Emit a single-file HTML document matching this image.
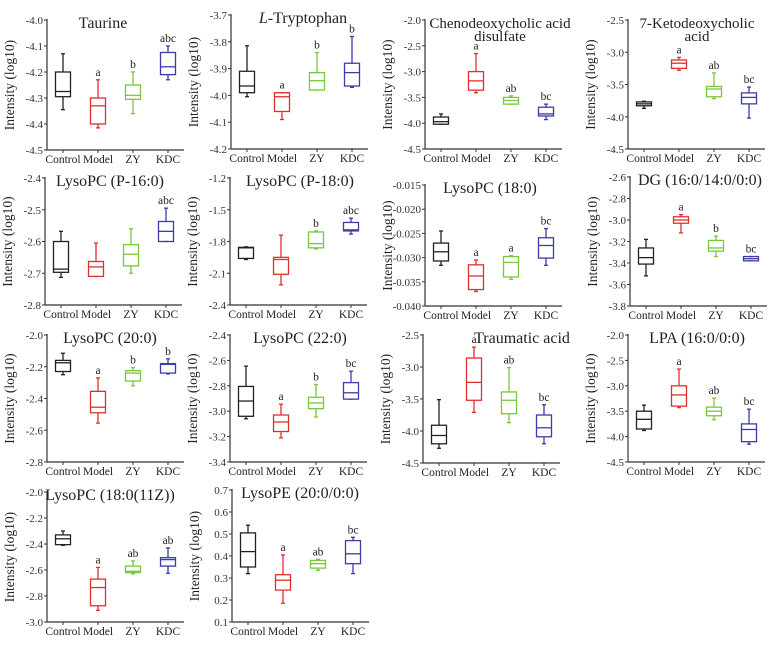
<!DOCTYPE html>
<html><head><meta charset="utf-8">
<style>
html,body{margin:0;padding:0;background:#fff;}
svg, svg text{font-family:"Liberation Serif","DejaVu Serif",serif;}
</style></head>
<body>
<svg id="chart" width="779" height="641" viewBox="0 0 779 641" xmlns="http://www.w3.org/2000/svg" font-family="Liberation Serif, serif"></svg>
<script>
const categories = ["Control","Model","ZY","KDC"];
const groupColors = ["#222222","#e0302e","#78c83a","#3c3ca8"];
const titles = [["Taurine"],["L-Tryptophan"],["Chenodeoxycholic acid","disulfate"],["7-Ketodeoxycholic","acid"],
 ["LysoPC (P-16:0)"],["LysoPC (P-18:0)"],["LysoPC (18:0)"],["DG (16:0/14:0/0:0)"],
 ["LysoPC (20:0)"],["LysoPC (22:0)"],["Traumatic acid"],["LPA (16:0/0:0)"],
 ["LysoPC (18:0(11Z))"],["LysoPE (20:0/0:0)"]];
const yTicks = [
 ["-4.0","-4.1","-4.2","-4.3","-4.4","-4.5"],
 ["-3.7","-3.8","-3.9","-4.0","-4.1","-4.2"],
 ["-2.0","-2.5","-3.0","-3.5","-4.0","-4.5"],
 ["-2.5","-3.0","-3.5","-4.0","-4.5"],
 ["-2.4","-2.5","-2.6","-2.7","-2.8"],
 ["-1.2","-1.5","-1.8","-2.1","-2.4"],
 ["-0.015","-0.020","-0.025","-0.030","-0.035","-0.040"],
 ["-2.6","-2.8","-3.0","-3.2","-3.4","-3.6","-3.8"],
 ["-2.0","-2.2","-2.4","-2.6","-2.8"],
 ["-2.4","-2.6","-2.8","-3.0","-3.2","-3.4"],
 ["-2.5","-3.0","-3.5","-4.0","-4.5"],
 ["-2.0","-2.5","-3.0","-3.5","-4.0","-4.5"],
 ["-2.0","-2.2","-2.4","-2.6","-2.8","-3.0"],
 ["0.7","0.6","0.5","0.4","0.3","0.2","0.1"]];
// each group: [whiskerLow, q1, median, q3, whiskerHigh]
const taurine = [[-4.345,-4.295,-4.275,-4.2,-4.13],[-4.415,-4.40,-4.33,-4.3,-4.23],[-4.36,-4.305,-4.29,-4.25,-4.2],[-4.23,-4.21,-4.18,-4.125,-4.10]];
const tryptophan = [[-4.005,-3.99,-3.965,-3.91,-3.815],[-4.09,-4.06,-4.005,-3.99,-3.99],[-3.98,-3.98,-3.945,-3.915,-3.84],[-3.97,-3.965,-3.915,-3.88,-3.78]];
const chenoSulfate = [[-4.02,-4.02,-3.97,-3.88,-3.82],[-3.41,-3.36,-3.18,-3.0,-2.65],[-3.63,-3.63,-3.56,-3.5,-3.47],[-3.93,-3.86,-3.82,-3.69,-3.63]];
const ketodeoxy = [[-3.87,-3.83,-3.8,-3.77,-3.76],[-3.28,-3.25,-3.17,-3.12,-3.08],[-3.72,-3.69,-3.57,-3.53,-3.32],[-4.02,-3.8,-3.7,-3.63,-3.54]];
const lysoP16 = [[-2.713,-2.697,-2.687,-2.6,-2.568],[-2.71,-2.71,-2.68,-2.663,-2.605],[-2.70,-2.677,-2.64,-2.61,-2.56],[-2.6,-2.6,-2.568,-2.537,-2.495]];
const lysoP18 = [[-1.97,-1.96,-1.86,-1.855,-1.85],[-2.21,-2.11,-1.97,-1.95,-1.74],[-1.87,-1.86,-1.82,-1.71,-1.70],[-1.73,-1.70,-1.69,-1.62,-1.58]];
const lyso180 = [[-0.0316,-0.0307,-0.0288,-0.027,-0.0245],[-0.037,-0.0366,-0.0338,-0.0315,-0.0305],[-0.0345,-0.034,-0.031,-0.0298,-0.0296],[-0.0316,-0.0301,-0.0275,-0.0259,-0.024]];
const dgLipid = [[-3.52,-3.41,-3.35,-3.26,-3.18],[-3.12,-3.03,-3.0,-2.97,-2.95],[-3.34,-3.29,-3.26,-3.19,-3.15],[-3.38,-3.38,-3.36,-3.34,-3.34]];
const lyso200 = [[-2.25,-2.23,-2.175,-2.16,-2.115],[-2.555,-2.49,-2.455,-2.355,-2.27],[-2.32,-2.29,-2.24,-2.225,-2.205],[-2.245,-2.24,-2.185,-2.18,-2.15]];
const lyso220 = [[-3.06,-3.04,-2.92,-2.805,-2.645],[-3.21,-3.16,-3.085,-3.03,-2.945],[-3.045,-2.98,-2.935,-2.89,-2.79],[-2.905,-2.905,-2.855,-2.775,-2.685]];
const traumatic = [[-4.27,-4.20,-4.07,-3.91,-3.51],[-3.71,-3.52,-3.24,-2.86,-2.69],[-3.87,-3.73,-3.52,-3.39,-3.01],[-4.2,-4.09,-3.95,-3.75,-3.59]];
const lpa = [[-3.88,-3.85,-3.66,-3.5,-3.38],[-3.43,-3.4,-3.18,-3.0,-2.67],[-3.67,-3.59,-3.5,-3.42,-3.24],[-4.15,-4.1,-3.86,-3.75,-3.46]];
const lyso11z = [[-2.41,-2.405,-2.36,-2.33,-2.30],[-2.91,-2.875,-2.735,-2.67,-2.58],[-2.63,-2.62,-2.61,-2.57,-2.53],[-2.625,-2.57,-2.52,-2.505,-2.43]];
const lysoPE = [[0.32,0.35,0.42,0.505,0.54],[0.185,0.245,0.29,0.315,0.405],[0.335,0.345,0.365,0.38,0.385],[0.32,0.365,0.41,0.47,0.485]];
const panelStats = [taurine,tryptophan,chenoSulfate,ketodeoxy,lysoP16,lysoP18,lyso180,dgLipid,lyso200,lyso220,traumatic,lpa,lyso11z,lysoPE];
const sigLetters = [["","a","b","abc"],["","a","b","b"],["","a","ab","bc"],["","a","ab","bc"],
 ["","","","abc"],["","","b","abc"],["","a","a","bc"],["","a","b","bc"],
 ["","a","b","b"],["","a","b","bc"],["","a","ab","bc"],["","a","ab","bc"],
 ["","a","ab","ab"],["","a","ab","bc"]];

const NS="http://www.w3.org/2000/svg";
const FONT="Liberation Serif, DejaVu Serif, serif";
const svg=document.getElementById('chart');
function mk(tag,attrs,parent){const e=document.createElementNS(NS,tag);for(const k in attrs)e.setAttribute(k,attrs[k]);if(tag==='text')e.setAttribute('font-family',FONT);(parent||svg).appendChild(e);return e;}
const layout=[[47,20,150],[231,15,149],[425,20,149],[628,20,149],
 [45,178,305],[230,178,305],[425,185,306],[630,177,306],
 [47,335,462],[230,335,462],[423,335,463],[628,335,462],
 [47,492,622],[232,490,622]];
const titleX=[103,303,500,697,110,300,490,700,110,300,522,697,110,300];

panelStats.forEach((stats,p)=>{
  const [ax,top,bot]=layout[p];
  const ticks=yTicks[p];
  const vTop=parseFloat(ticks[0]), vBot=parseFloat(ticks[ticks.length-1]);
  const yScale=v=>top+(vTop-v)/(vTop-vBot)*(bot-top);
  const xScale=i=>ax+16+i*35;
  const g=mk('g',{});
  
  
  const yAxis=mk('line',{x1:ax,y1:top-1,x2:ax,y2:bot,stroke:'#333','stroke-width':1.2},g);
  
  
  const xAxis=mk('line',{x1:ax,y1:bot,x2:ax+137,y2:bot,stroke:'#333','stroke-width':1.2},g);
  
  
  ticks.forEach(t=>{
    const y=yScale(parseFloat(t));
    mk('line',{x1:ax-3,y1:y,x2:ax,y2:y,stroke:'#333','stroke-width':1},g);
    const tl=mk('text',{x:ax-4,y:y+4,'text-anchor':'end','font-size':11,fill:'#333'},g);
    tl.textContent=t;
    
    
  });
  categories.forEach((c,i)=>{
    const x=xScale(i);
    mk('line',{x1:x,y1:bot,x2:x,y2:bot+3,stroke:'#333','stroke-width':1},g);
    const xl=mk('text',{x:x,y:bot+13,'text-anchor':'middle','font-size':11.5,fill:'#222'},g);
    xl.textContent=c;
    
    
  });
  const yc=(top+bot)/2;
  const yt=mk('text',{x:ax-33,y:yc,'text-anchor':'middle','font-size':13.5,fill:'#222',transform:`rotate(-90 ${ax-33} ${yc})`},g);
  yt.textContent='Intensity (log10)';
  
  
  const tLines=titles[p];
  tLines.forEach((line,li)=>{
    const tt=mk('text',{x:titleX[p],y:top+8+li*13,'text-anchor':'middle','font-size':tLines.length>1?15:16,fill:'#222'},g);
    if(line==='L-Tryptophan'){const s=mk('tspan',{'font-style':'italic'},tt);s.textContent='L';const r=mk('tspan',{},tt);r.textContent='-Tryptophan';}
    else tt.textContent=line;
    
    
  });
  stats.forEach((s,i)=>{
    const [lo,q1,med,q3,hi]=s;
    const x=xScale(i), col=groupColors[i], w=15;
    const bg=mk('g',{stroke:col,'stroke-width':1.3,fill:'none'},g);
    
    
    mk('line',{x1:x,y1:yScale(hi),x2:x,y2:yScale(q3)},bg);
    mk('line',{x1:x,y1:yScale(q1),x2:x,y2:yScale(lo)},bg);
    mk('line',{x1:x-2,y1:yScale(hi),x2:x+2,y2:yScale(hi)},bg);
    mk('line',{x1:x-2,y1:yScale(lo),x2:x+2,y2:yScale(lo)},bg);
    mk('rect',{x:x-w/2,y:yScale(q3),width:w,height:Math.max(1,yScale(q1)-yScale(q3))},bg);
    mk('line',{x1:x-w/2,y1:yScale(med),x2:x+w/2,y2:yScale(med)},bg);
    const lt=sigLetters[p][i];
    if(lt){
      const l=mk('text',{x:x,y:yScale(hi)-4,'text-anchor':'middle','font-size':11.5,fill:'#222'},g);
      l.textContent=lt;
      
      
    }
  });
});
</script>
</body></html>
